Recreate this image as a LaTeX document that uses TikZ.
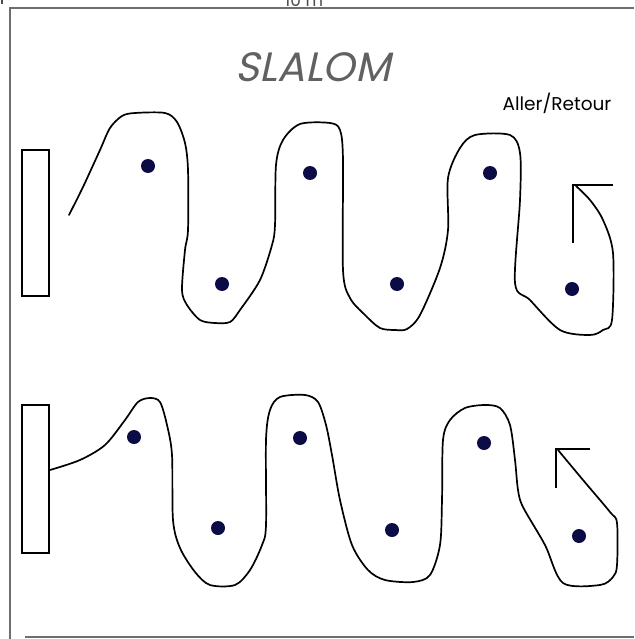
\documentclass[tikz,border=0pt]{standalone}
\usepackage{fontspec}
\newfontfamily\titlefont[FakeSlant=0.22]{Poppins}
\newfontfamily\labelfont{Poppins}
\definecolor{dotblue}{HTML}{0B0B45}
\definecolor{framegray}{HTML}{6E6E6E}
\begin{document}
\begin{tikzpicture}[x=1pt,y=-1pt,
  frameline/.style={draw=framegray,line width=2pt},
  course/.style={draw=black,line width=1.7pt,line join=round,line cap=round},
  post/.style={circle,fill=dotblue,inner sep=0pt,minimum size=14pt},
  board/.style={draw=black,line width=1.6pt},
  turnarrow/.style={draw=black,line width=1.8pt}]
\useasboundingbox (0,0) rectangle (634,639);
% frame
\begin{scope}
\clip (0,0) rectangle (634,8);
\node[font=\labelfont\fontsize{17}{17}\selectfont, text=black!70] (dist) at (304,0) {10 m};
\end{scope}
\draw[frameline] (9.5,639) -- (9.5,8) -- (634,8);
\draw[frameline] (25,637) -- (634,637);
\draw[draw=black!70,line width=1.5pt] (2,0) -- (2,4);
% titles
\node[font=\titlefont\fontsize{41}{41}\selectfont, text=black!62] (title) at (313,67) {SLALOM};
\node[font=\labelfont\fontsize{18.5}{19}\selectfont, text=black] (mode) at (557,103) {Aller/Retour};
% top row
\draw[board] (22,150) rectangle (49,296);
\node[post] (t1) at (148,166) {};
\node[post] (t2) at (222,284) {};
\node[post] (t3) at (310,173) {};
\node[post] (t4) at (397,284) {};
\node[post] (t5) at (490,173) {};
\node[post] (t6) at (572,289) {};
\draw[course] plot[smooth,tension=0.5] coordinates {
 (69,215) (83,187) (100,150) (110,128) (122,116) (135,113) (165,113) (177,122)
 (185,143) (188,170) (188,230) (185,250) (182,290) (187,305) (200,320) (215,323)
 (230,322) (240,310) (260,280) (272,245) (275,225) (276,165) (283,140) (300,124)
 (330,123) (340,130) (343,160) (343,270) (350,298) (365,315) (380,328) (395,330)
 (407,329) (420,315) (440,268) (448,230) (448,178) (460,148) (475,135) (510,135)
 (520,153) (520,200) (515,283) (530,300) (560,330) (590,335) (603,330) (612,320)
 (613,253) (603,220) (590,200) (576,186)};
\coordinate (ta) at (573,185);
\draw[turnarrow] (573,243) -- (ta) -- (613,185);
% bottom row
\draw[board] (22,405) rectangle (49,553);
\node[post] (b1) at (134,437) {};
\node[post] (b2) at (218,528) {};
\node[post] (b3) at (300,438) {};
\node[post] (b4) at (392,530) {};
\node[post] (b5) at (484,443) {};
\node[post] (b6) at (579,536) {};
\draw[course] plot[smooth,tension=0.5] coordinates {
 (50,470) (80,460) (105,445) (125,420) (138,402) (150,398) (160,402) (167,425)
 (172,455) (173,520) (180,548) (195,572) (210,585) (235,585) (250,570) (262,545)
 (266,525) (266,440) (270,410) (280,397) (305,395) (318,402) (326,425) (332,455)
 (340,500) (352,545) (368,570) (385,580) (413,582) (430,575) (440,545) (442,500)
 (443,440) (450,420) (465,408) (485,405) (500,408) (510,425) (515,460) (518,490)
 (523,507) (545,545) (563,583) (600,585) (613,577) (617,565) (617,523) (610,512)
 (583,480) (558,450)};
\coordinate (ba) at (556,449);
\draw[turnarrow] (556,488) -- (ba) -- (590,449);
\end{tikzpicture}
\end{document}
